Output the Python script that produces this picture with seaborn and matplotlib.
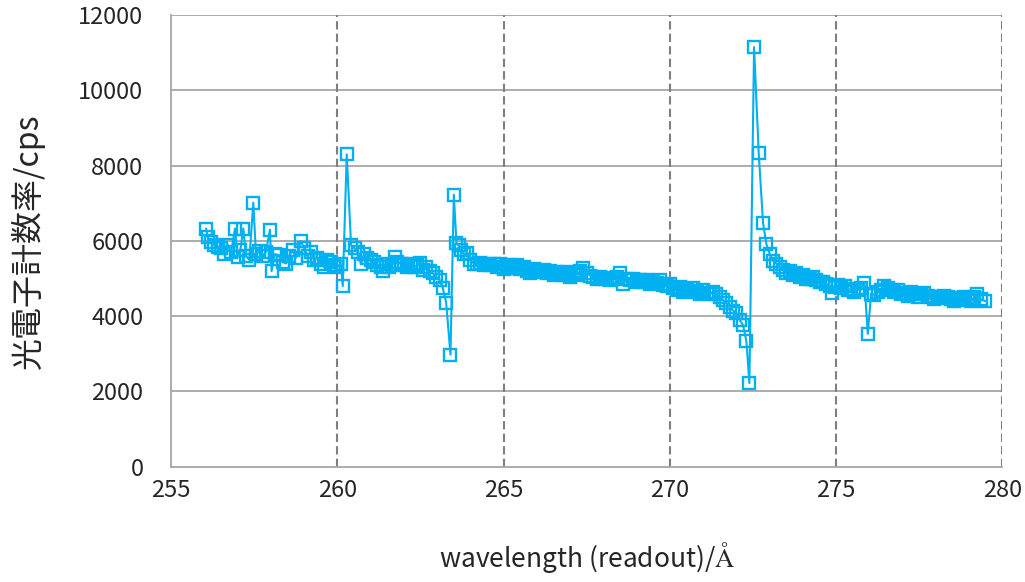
import numpy as np
import pandas as pd
import seaborn as sns
import matplotlib.pyplot as plt
from matplotlib.ticker import MultipleLocator

# wavelength readout (Angstrom) and photoelectron count rate (cps)
wavelength = [
    256.05, 256.10, 256.20, 256.30, 256.40, 256.50, 256.60, 256.70, 256.80, 256.92,
    257.00, 257.08, 257.17, 257.25, 257.35, 257.47, 257.55, 257.65, 257.75, 257.85,
    257.97, 258.02, 258.12, 258.25, 258.35, 258.45, 258.55, 258.65, 258.75, 258.90,
    259.00, 259.10, 259.20, 259.30, 259.40, 259.50, 259.60, 259.70, 259.80, 259.90,
    260.00, 260.10, 260.16, 260.28, 260.41, 260.52, 260.62, 260.71, 260.80, 260.90,
    261.00, 261.10, 261.20, 261.30, 261.36, 261.45, 261.55, 261.65, 261.72, 261.80,
    261.90, 262.00, 262.10, 262.20, 262.30, 262.40, 262.47, 262.57, 262.67, 262.77,
    262.87, 262.97, 263.07, 263.17, 263.27, 263.40, 263.50, 263.58, 263.65, 263.72,
    263.80, 263.90, 264.00, 264.10, 264.20, 264.30, 264.40, 264.50, 264.60, 264.70,
    264.80, 264.90, 265.00, 265.10, 265.20, 265.30, 265.40, 265.50, 265.60, 265.70,
    265.80, 265.90, 266.00, 266.10, 266.20, 266.30, 266.40, 266.50, 266.60, 266.70,
    266.80, 266.90, 267.00, 267.10, 267.20, 267.30, 267.40, 267.50, 267.60, 267.70,
    267.80, 267.90, 268.00, 268.10, 268.20, 268.30, 268.40, 268.50, 268.60, 268.70,
    268.80, 268.90, 269.00, 269.10, 269.20, 269.30, 269.40, 269.50, 269.60, 269.70,
    269.80, 269.90, 270.00, 270.10, 270.20, 270.30, 270.40, 270.50, 270.60, 270.70,
    270.80, 270.90, 271.00, 271.10, 271.20, 271.30, 271.40, 271.50, 271.60, 271.70,
    271.80, 271.90, 272.00, 272.10, 272.20, 272.30, 272.39, 272.53, 272.67, 272.80,
    272.90, 273.00, 273.10, 273.20, 273.30, 273.40, 273.50, 273.60, 273.70, 273.80,
    273.90, 274.00, 274.10, 274.20, 274.30, 274.40, 274.50, 274.60, 274.70, 274.80,
    274.87, 274.95, 275.05, 275.15, 275.25, 275.35, 275.45, 275.55, 275.65, 275.75,
    275.85, 275.95, 276.05, 276.13, 276.25, 276.35, 276.45, 276.55, 276.65, 276.75,
    276.85, 276.95, 277.05, 277.15, 277.25, 277.35, 277.45, 277.55, 277.65, 277.75,
    277.85, 277.95, 278.05, 278.15, 278.25, 278.35, 278.45, 278.55, 278.65, 278.75,
    278.85, 278.95, 279.05, 279.15, 279.24, 279.35, 279.49,
]
count_rate = [
    6330, 6100, 5980, 5890, 5850, 5800, 5640, 5900, 5700, 6330,
    5580, 5750, 6330, 5600, 5500, 7020, 5650, 5720, 5600, 5700,
    6300, 5200, 5650, 5620, 5450, 5400, 5600, 5750, 5550, 6000,
    5800, 5600, 5700, 5500, 5550, 5400, 5300, 5500, 5450, 5350,
    5300, 5400, 4800, 8300, 5890, 5800, 5700, 5380, 5650, 5550,
    5500, 5450, 5350, 5300, 5200, 5400, 5300, 5350, 5580, 5450,
    5400, 5350, 5300, 5400, 5300, 5350, 5420, 5230, 5300, 5200,
    5140, 5050, 4960, 4750, 4360, 2980, 7230, 5940, 5880, 5750,
    5650, 5680, 5500, 5400, 5380, 5420, 5360, 5400, 5350, 5380,
    5300, 5400, 5250, 5350, 5300, 5280, 5350, 5250, 5300, 5200,
    5150, 5250, 5200, 5180, 5220, 5150, 5200, 5100, 5180, 5150,
    5100, 5180, 5050, 5150, 5100, 5200, 5280, 5150, 5080, 5050,
    5000, 5050, 4980, 5020, 4950, 5000, 5050, 5150, 4850, 5000,
    4950, 5000, 4900, 4950, 4900, 4950, 4850, 4900, 4880, 4950,
    4820, 4800, 4850, 4750, 4700, 4780, 4650, 4720, 4680, 4750,
    4650, 4600, 4700, 4620, 4580, 4650, 4600, 4500, 4430, 4350,
    4250, 4150, 4080, 3900, 3760, 3330, 2220, 11150, 8330, 6480,
    5920, 5650, 5480, 5400, 5300, 5230, 5150, 5200, 5100, 5150,
    5050, 5100, 5000, 4980, 5050, 4950, 4920, 4900, 4850, 4800,
    4620, 4780, 4830, 4750, 4800, 4700, 4720, 4650, 4700, 4750,
    4880, 3530, 4600, 4570, 4650, 4700, 4790, 4750, 4700, 4650,
    4700, 4600, 4620, 4550, 4650, 4600, 4500, 4580, 4620, 4550,
    4500, 4450, 4520, 4480, 4550, 4500, 4450, 4400, 4480, 4420,
    4500, 4450, 4400, 4500, 4600, 4450, 4400,
]

x_ticks = [255, 260, 265, 270, 275, 280]
y_ticks = [0, 2000, 4000, 6000, 8000, 10000, 12000]

line_color = "#00B0F0"

sns.set_style("white")
plt.rcParams["font.family"] = ["Noto Sans CJK JP", "DejaVu Sans"]
plt.rcParams["mathtext.fontset"] = "stix"

data = pd.DataFrame({"wavelength": wavelength, "rate": count_rate})

fig = plt.figure(figsize=(10.25, 5.82), dpi=100)
ax = fig.add_axes([0.167, 0.198, 0.811, 0.776])

sns.lineplot(data=data, x="wavelength", y="rate", ax=ax, estimator=None, sort=False,
             color=line_color, lw=1.5, marker="s", markersize=9,
             markerfacecolor="none", markeredgecolor=line_color, markeredgewidth=1.7,
             zorder=3)

ax.set_xlim(255, 280)
ax.set_ylim(0, 12000)
ax.set_xticks(x_ticks)
ax.set_yticks(y_ticks)
ax.xaxis.set_minor_locator(MultipleLocator(1))

# grid: solid horizontal, dashed vertical
for yv in y_ticks[1:]:
    ax.axhline(yv, color="#a6a6a6", lw=1.3, zorder=1)
for xv in x_ticks[1:]:
    ax.axvline(xv, color="#7f7f7f", lw=1.5, ls=(0, (4, 2)), zorder=1)

for side in ["top", "right"]:
    ax.spines[side].set_visible(False)
for side in ["left", "bottom"]:
    ax.spines[side].set_color("#a6a6a6")
    ax.spines[side].set_linewidth(1.3)

ax.tick_params(axis="x", which="both", direction="in", length=6, width=1,
               color="#a6a6a6", labelsize=17, pad=9)
ax.tick_params(axis="y", length=0, labelsize=17, pad=20)

ax.set_xlabel(r"wavelength (readout)/$\mathrm{\AA}$", fontsize=19, labelpad=27)
ax.set_ylabel("光電子計数率/cps", fontsize=23, labelpad=24)

fig.savefig("out.png", dpi=100)
